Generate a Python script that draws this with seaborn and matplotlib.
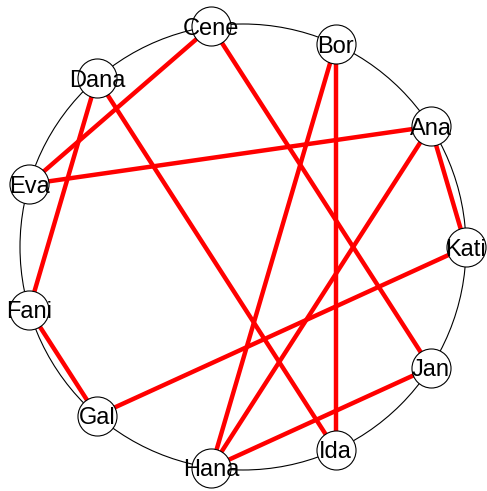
import numpy as np
import pandas as pd
import matplotlib.pyplot as plt
from matplotlib.patches import Circle
import seaborn as sns

# nodes in order around the circle (counter-clockwise, starting at the right)
nodes = ['Kati', 'Ana', 'Bor', 'Cene', 'Dana', 'Eva', 'Fani', 'Gal', 'Hana', 'Ida', 'Jan']
edge_from = ['Cene', 'Cene', 'Dana', 'Dana', 'Bor', 'Bor', 'Ana', 'Ana', 'Ana', 'Kati', 'Fani', 'Jan']
edge_to = ['Eva', 'Jan', 'Fani', 'Ida', 'Ida', 'Hana', 'Eva', 'Kati', 'Hana', 'Gal', 'Gal', 'Hana']

sns.set_style('white')
plt.rcParams['font.family'] = ['Liberation Sans', 'DejaVu Sans']

# circular layout
angles = 2 * np.pi * np.arange(len(nodes)) / len(nodes)
pos = pd.DataFrame({'name': nodes, 'x': np.cos(angles), 'y': np.sin(angles)})
lookup = pos.set_index('name')

rows = []
for i, (a, b) in enumerate(zip(edge_from, edge_to)):
    for n in (a, b):
        rows.append({'edge': i, 'x': lookup.loc[n, 'x'], 'y': lookup.loc[n, 'y']})
edges = pd.DataFrame(rows)

fig = plt.figure(figsize=(4.87, 4.91), dpi=100)
ax = fig.add_axes([0, 0, 1, 1])

ax.add_patch(Circle((0, 0), 1, fill=False, edgecolor='black', lw=0.8, zorder=1))

sns.lineplot(data=edges, x='x', y='y', units='edge', estimator=None, sort=False,
             color='red', lw=3.2, ax=ax, zorder=2)
sns.scatterplot(data=pos, x='x', y='y', s=790, color='white', edgecolor='black',
                linewidth=0.8, ax=ax, zorder=3)

for _, r in pos.iterrows():
    ax.text(r['x'], r['y'], r['name'], ha='center', va='center_baseline',
            fontsize=17, color='black', zorder=4)

scale = 223.0
ax.set_xlim(-243 / scale, (487 - 243) / scale)
ax.set_ylim(-(491 - 247) / scale, 247 / scale)
ax.set_aspect('equal')
ax.axis('off')

fig.savefig('out.png', dpi=100)
